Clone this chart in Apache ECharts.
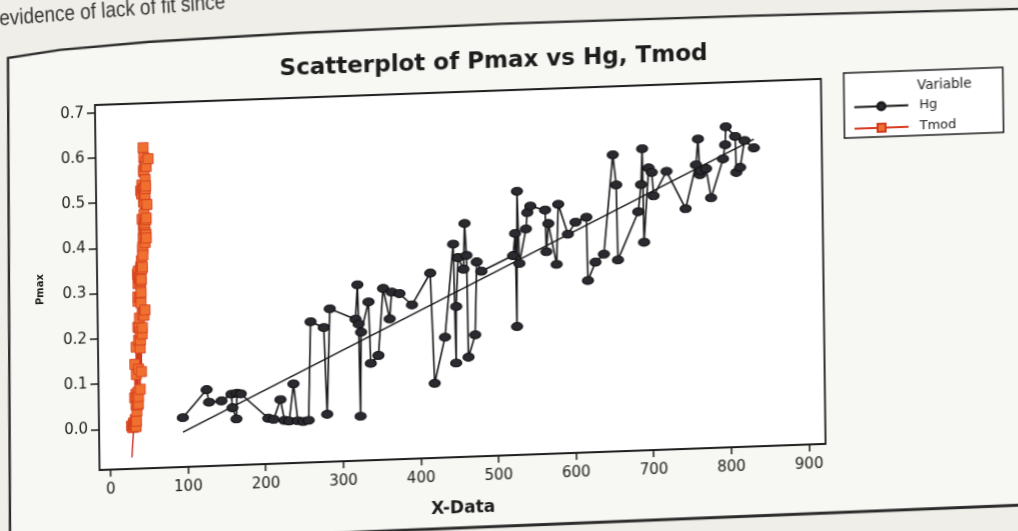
<!DOCTYPE html>
<html>
<head>
<meta charset="utf-8">
<script src="https://cdn.jsdelivr.net/npm/echarts@6/dist/echarts.min.js"></script>
<style>
  html, body { margin: 0; padding: 0; width: 1018px; height: 531px; overflow: hidden; background: #f0eee8; }
  /* the printed sheet sits at a slight slant */
  #sheet {
    position: absolute; left: 0; top: 0; width: 1070px; height: 590px;
    transform-origin: 99px 429.3px;
    transform: matrix(1, -0.036, 0.0127, 1, 0, 0);
  }
</style>
</head>
<body>
<div id="sheet"></div>
<script>
// Irradiance Hg (W/m2), in increasing order, and the matching module temperature Tmod (degC)
const hg = [94, 125, 128, 144, 157, 158, 163, 164, 169, 204, 211, 220, 225, 231, 237, 242, 249, 256, 260, 277,
  280, 285, 318, 321, 322, 323, 325, 335, 337, 347, 354, 362, 365, 375, 391, 415, 419, 433, 445, 447,
  448, 451, 458, 460, 462, 463, 472, 475, 481, 522, 525, 526, 528, 530, 539, 541, 545, 564, 565, 568,
  578, 581, 593, 603, 617, 618, 628, 639, 652, 656, 657, 684, 688, 690, 691, 698, 702, 704, 721, 745,
  759, 762, 764, 765, 772, 778, 794, 797, 798, 810, 811, 816, 822, 834];

// Measured Pmax for each observation (shared by both predictors)
const pmax = [0.019, 0.079, 0.051, 0.053, 0.067, 0.037, 0.012, 0.069, 0.067, 0.011, 0.008, 0.051, 0.005, 0.003, 0.085, 0.003, 0.001, 0.003, 0.221, 0.207,
  0.015, 0.248, 0.223, 0.299, 0.212, 0.008, 0.194, 0.260, 0.124, 0.141, 0.289, 0.221, 0.280, 0.276, 0.250, 0.319, 0.075, 0.176, 0.381, 0.118,
  0.243, 0.351, 0.325, 0.426, 0.355, 0.130, 0.179, 0.340, 0.319, 0.351, 0.400, 0.194, 0.493, 0.333, 0.409, 0.445, 0.459, 0.449, 0.357, 0.419,
  0.328, 0.461, 0.394, 0.420, 0.430, 0.290, 0.330, 0.347, 0.566, 0.499, 0.333, 0.438, 0.498, 0.577, 0.370, 0.534, 0.524, 0.472, 0.525, 0.441,
  0.537, 0.594, 0.515, 0.524, 0.528, 0.463, 0.548, 0.579, 0.619, 0.597, 0.517, 0.528, 0.587, 0.570];

const tmod = [32.7, 36.6, 33.8, 36.9, 32.3, 34.9, 30.6, 37.2, 34.5, 31.8, 30.1, 36.2, 27.8, 33.1, 39.6, 30.8, 29.2, 33.5, 39.1, 42.9,
  34.2, 45.5, 37.5, 42.3, 40.8, 30.8, 38.3, 47.0, 41.4, 33.0, 40.6, 43.4, 38.0, 42.0, 43.9, 38.4, 34.0, 40.1, 45.2, 34.8,
  39.8, 42.2, 42.4, 49.6, 44.4, 37.7, 34.9, 37.8, 41.3, 43.6, 45.1, 40.7, 51.3, 39.6, 48.3, 46.3, 49.4, 47.9, 42.3, 49.8,
  42.6, 44.8, 45.0, 45.8, 48.9, 38.1, 40.2, 38.8, 47.4, 46.7, 41.1, 47.4, 48.6, 50.8, 43.2, 49.8, 43.4, 47.4, 47.2, 47.0,
  45.0, 53.5, 48.9, 47.5, 46.0, 50.1, 49.3, 49.0, 47.2, 47.9, 44.5, 49.3, 50.2, 47.6];

// Fitted straight lines  Pmax = intercept + slope * X
const hgFit = { intercept: -0.0894, slope: 0.0008138 };
const tmodFit = { intercept: -0.746, slope: 0.0245 };

// Axis tick values
const xTicks = [0, 100, 200, 300, 400, 500, 600, 700, 800, 900];
const yTicks = [0, 0.1, 0.2, 0.3, 0.4, 0.5, 0.6, 0.7];

const seriesNames = ['Hg', 'Tmod'];
const chartTitle = 'Scatterplot of Pmax vs Hg, Tmod';
const xName = 'X-Data';
const yName = 'Pmax';
const legendTitle = 'Variable';
const pageText = 'evidence of lack of fit since';

// ---- build point lists (connect lines follow increasing X) ----
const hgPts = hg.map((x, i) => [x, pmax[i]]).sort((a, b) => a[0] - b[0]);
const tmodPts = tmod.map((x, i) => [x, pmax[i]]).sort((a, b) => a[0] - b[0]);

function fitLine(fit, xs) {
  const lo = Math.min(...xs), hi = Math.max(...xs);
  return [[lo, fit.intercept + fit.slope * lo], [hi, fit.intercept + fit.slope * hi]];
}

const FONT = 'DejaVu Sans, Verdana, sans-serif';
const INK = '#1c1c1c';

const chart = echarts.init(document.getElementById('sheet'), null, { renderer: 'canvas' });

chart.setOption({
  animation: false,
  backgroundColor: 'transparent',
  title: {
    text: chartTitle,
    left: 493, top: 60, textAlign: 'center',
    textStyle: { fontFamily: FONT, fontWeight: 'bold', fontSize: 23, color: INK }
  },
  grid: {
    left: 99, top: 105, width: 726, height: 365,
    show: true, backgroundColor: '#ffffff', borderColor: INK, borderWidth: 1.8
  },
  xAxis: {
    type: 'value', min: -14.2, max: 921.4,
    name: xName, nameLocation: 'middle', nameGap: 43,
    nameTextStyle: { fontFamily: FONT, fontWeight: 'bold', fontSize: 17, color: INK },
    axisLine: { show: false, onZero: false },
    axisTick: { show: true, length: 7, inside: false, customValues: xTicks, lineStyle: { color: INK, width: 1.5 } },
    axisLabel: { customValues: xTicks, fontFamily: FONT, fontSize: 15, color: INK, margin: 13 },
    splitLine: { show: false }
  },
  yAxis: {
    type: 'value', min: -0.0901, max: 0.7171,
    name: yName, nameLocation: 'middle', nameGap: 52, nameRotate: 90,
    nameTextStyle: { fontFamily: FONT, fontWeight: 'bold', fontSize: 10, color: INK },
    axisLine: { show: false, onZero: false },
    axisTick: { show: true, length: 8, inside: false, customValues: yTicks, lineStyle: { color: INK, width: 1.5 } },
    axisLabel: {
      customValues: yTicks, fontFamily: FONT, fontSize: 15, color: INK, margin: 11,
      formatter: v => (Math.abs(v) < 1e-9 ? 0 : v).toFixed(1)
    },
    splitLine: { show: false }
  },
  legend: {
    data: seriesNames, orient: 'vertical', left: 857, top: 128, padding: 0, z: 10,
    itemWidth: 54, itemHeight: 10, itemGap: 8.5,
    textStyle: { fontFamily: FONT, fontSize: 13, color: INK, padding: [0, 0, 0, 6] }
  },
  graphic: [
    // printed frame round the figure
    {
      type: 'polygon', z: -10, silent: true,
      shape: { points: [[12.7, 54.7], [64.8, 48.6], [154.9, 43.8], [305, 40.2], [505.2, 38.4], [755.3, 39.4], [1023.3, 42.1], [1070, 45.5], [1070, 540], [8.5, 543]] },
      style: { fill: '#f7f7f3' }
    },
    {
      type: 'polyline', z: 5, silent: true,
      shape: { points: [[8.3, 590], [8.7, 527.8], [12.7, 54.7], [64.8, 48.6], [154.9, 43.8], [305, 40.2], [505.2, 38.4], [755.3, 39.4], [1023.3, 42.1], [1070, 45.5]] },
      style: { stroke: '#2a2a2a', lineWidth: 2.4, fill: null }
    },
    {
      type: 'line', z: 5, silent: true,
      shape: { x1: 8.5, y1: 543, x2: 1070, y2: 538 },
      style: { stroke: '#2a2a2a', lineWidth: 3 }
    },
    {
      type: 'text', z: 5, silent: true, x: 5, y: 27, rotation: 0.04, scaleX: 0.86,
      style: { text: pageText, fontFamily: 'Liberation Sans, Arial, sans-serif', fontSize: 22, fill: '#333', textVerticalAlign: 'bottom' }
    },
    // legend box and heading
    {
      type: 'rect', z: 1, silent: true,
      shape: { x: 847.8, y: 100, width: 159, height: 65 },
      style: { fill: '#ffffff', stroke: INK, lineWidth: 1.5 }
    },
    {
      type: 'text', z: 11, silent: true, x: 921, y: 115.5,
      style: { text: legendTitle, fontFamily: FONT, fontSize: 13.5, fill: INK, textVerticalAlign: 'middle' }
    }
  ],
  series: [
    {
      name: 'Hg fit', type: 'line', data: fitLine(hgFit, hg), z: 1,
      symbol: 'none', silent: true,
      lineStyle: { color: '#111', width: 1.4 }
    },
    {
      name: 'Tmod fit', type: 'line', data: fitLine(tmodFit, tmod), z: 1,
      symbol: 'none', silent: true,
      lineStyle: { color: '#c4201a', width: 1.3 }
    },
    {
      name: 'Hg', type: 'line', data: hgPts, z: 3,
      symbol: 'circle', symbolSize: [11, 8],
      itemStyle: { color: '#2a2a30', borderColor: '#111', borderWidth: 1 },
      lineStyle: { color: '#151515', width: 1.6 }
    },
    {
      name: 'Tmod', type: 'line', data: tmodPts, z: 4,
      symbol: 'rect', symbolSize: 10,
      itemStyle: { color: '#f07030', borderColor: '#d23a1c', borderWidth: 0.8 },
      lineStyle: { color: '#d83a1e', width: 1.6 }
    }
  ]
});
</script>
</body>
</html>
